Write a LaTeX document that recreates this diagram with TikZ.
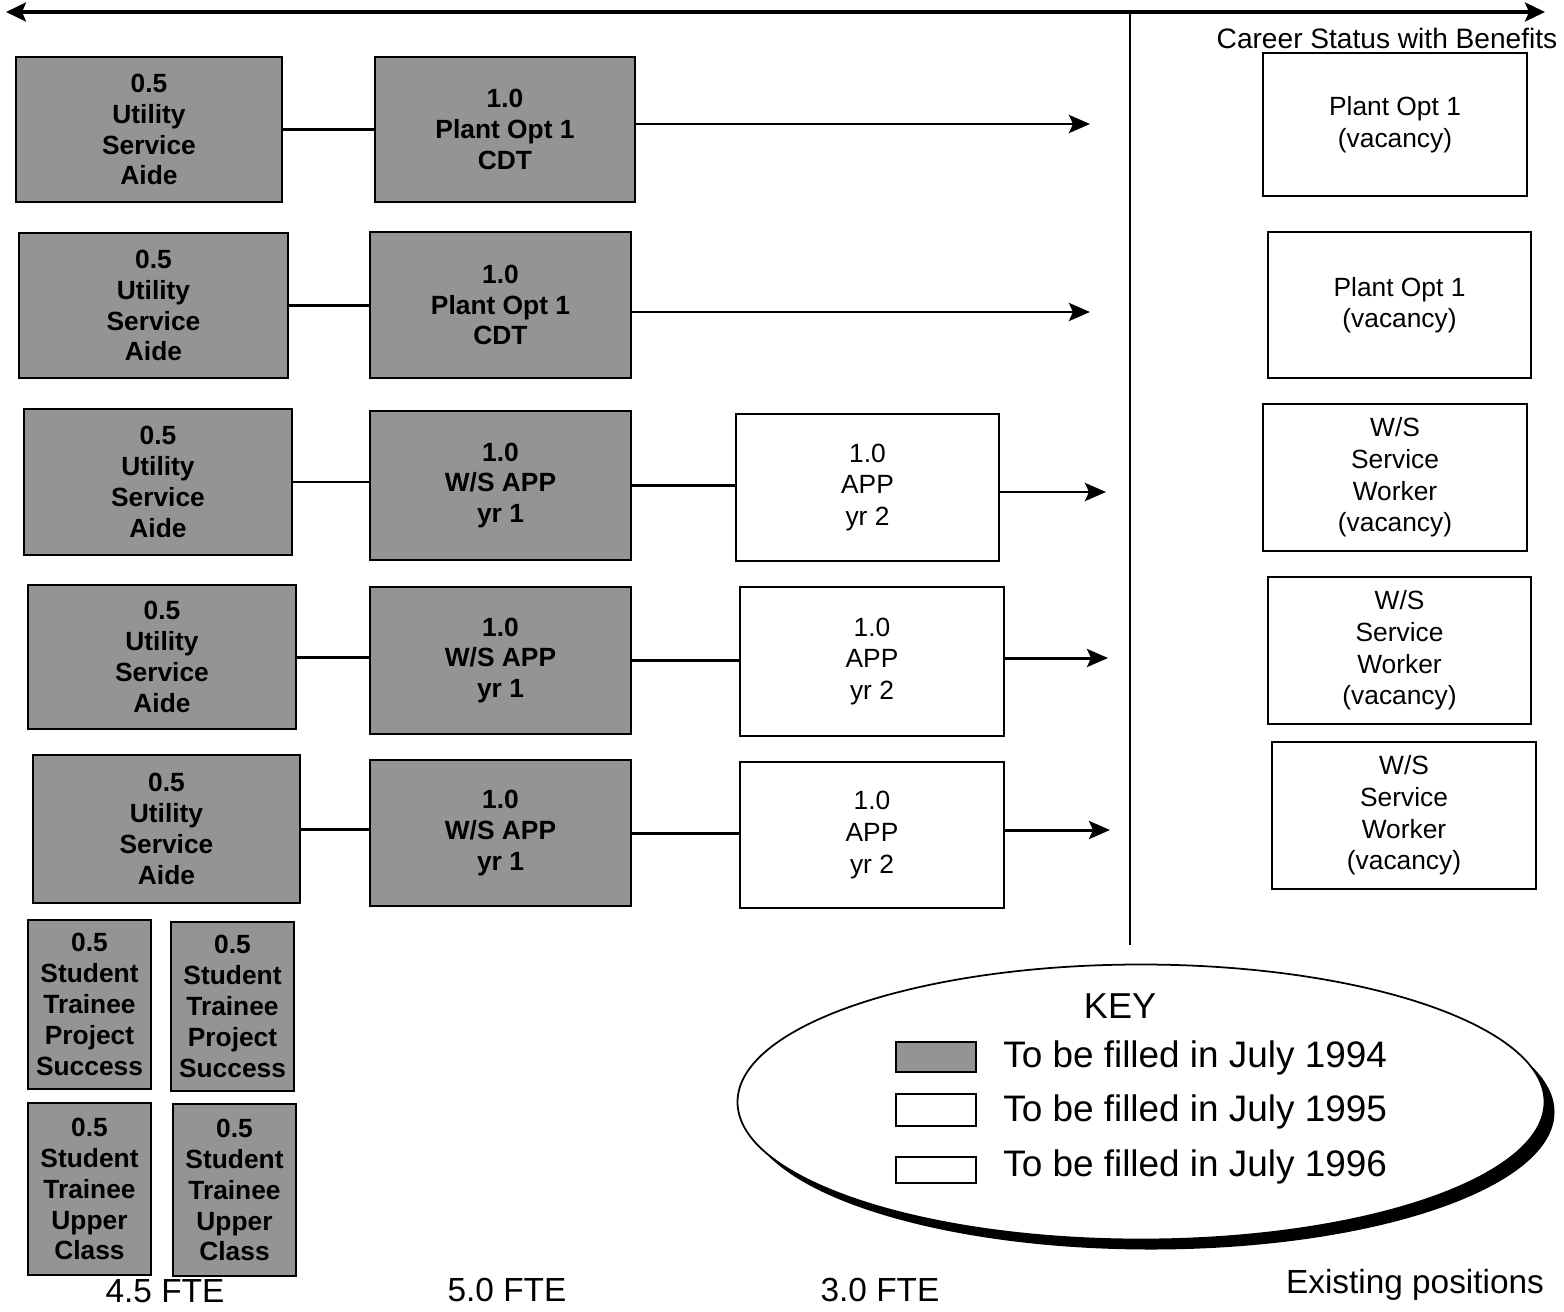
\documentclass[tikz,border=0pt]{standalone}
\usepackage{fontspec}
\setmainfont{Liberation Sans}
\usetikzlibrary{arrows.meta,positioning,shapes.geometric,shadows}

\begin{document}
\begin{tikzpicture}[
  x=0.02cm, y=-0.02cm,
  every node/.style={font=\fontsize{15}{18}\selectfont},
  sz/.style 2 args={minimum width=#1*0.02cm, minimum height=#2*0.02cm},
  greybox/.style={draw, line width=1.2pt, fill=black!42, align=center, inner sep=0pt,
                  font=\fontsize{15}{17.6}\selectfont\bfseries},
  whitebox/.style={draw, line width=1.1pt, fill=white, align=center, inner sep=0pt},
  link/.style={line width=1.7pt},
  arr/.style={line width=1.7pt, -{Stealth[length=0.42cm, width=0.36cm, inset=0.08cm]}},
  fte/.style={font=\fontsize{19}{22}\selectfont},
  keytext/.style={font=\fontsize{21}{24}\selectfont, anchor=west, inner sep=0pt}
]
  \useasboundingbox (0,0) rectangle (1564,1311);

  % time line and divider
  \coordinate (timeL) at (6,12);
  \coordinate (timeR) at (1545,12);
  \draw[line width=1.9pt, {Stealth[length=0.4cm, width=0.38cm, inset=0.08cm]}-{Stealth[length=0.4cm, width=0.38cm, inset=0.08cm]}] (timeL) -- (timeR);
  \coordinate (divtop) at (1130,12);
  \coordinate (divbot) at (1130,945);
  \draw[line width=0.8pt] (divtop) -- (divbot);
  \node[font=\fontsize{16}{19}\selectfont] (career) at (1387,38) {Career Status with Benefits};

  % row 1
  \node[greybox, sz={266}{145}] (aideA) at (149,129.5) {0.5\\Utility\\Service\\Aide};
  \node[greybox, sz={260}{145}] (cdtA) at (505,129.5) {1.0\\Plant Opt 1\\CDT};
  \node[whitebox, sz={264}{143}] (posA) at (1395,124.5) {Plant Opt 1\\(vacancy)};
  \coordinate (endA) at (1090,124);
  \draw[link] (aideA) -- (cdtA);
  \draw[arr] (cdtA.east |- endA) -- (endA);

  % row 2
  \node[greybox, sz={269}{145}] (aideB) at (153.5,305.5) {0.5\\Utility\\Service\\Aide};
  \node[greybox, sz={261}{146}] (cdtB) at (500.5,305) {1.0\\Plant Opt 1\\CDT};
  \node[whitebox, sz={263}{146}] (posB) at (1399.5,305) {Plant Opt 1\\(vacancy)};
  \coordinate (endB) at (1090,312);
  \draw[link] (aideB) -- (aideB -| cdtB.west);
  \draw[arr] (cdtB.east |- endB) -- (endB);

  % row 3
  \node[greybox, sz={268}{146}] (aideC) at (158,482) {0.5\\Utility\\Service\\Aide};
  \node[greybox, sz={261}{149}] (wsA) at (500.5,485.5) {1.0\\W/S APP\\yr 1};
  \node[whitebox, sz={263}{147}] (yrA) at (867.5,487.5) {1.0\\APP\\yr 2};
  \node[whitebox, sz={264}{147}] (posC) at (1395,477.5) {W/S\\Service\\Worker\\(vacancy)};
  \coordinate (endC) at (1106,492);
  \draw[link] (aideC) -- (aideC -| wsA.west);
  \draw[link] (wsA) -- (wsA -| yrA.west);
  \draw[arr] (yrA.east |- endC) -- (endC);

  % row 4
  \node[greybox, sz={268}{144}] (aideD) at (162,657) {0.5\\Utility\\Service\\Aide};
  \node[greybox, sz={261}{147}] (wsB) at (500.5,660.5) {1.0\\W/S APP\\yr 1};
  \node[whitebox, sz={264}{149}] (yrB) at (872,661.5) {1.0\\APP\\yr 2};
  \node[whitebox, sz={263}{147}] (posD) at (1399.5,650.5) {W/S\\Service\\Worker\\(vacancy)};
  \coordinate (endD) at (1108,658);
  \draw[link] (aideD) -- (aideD -| wsB.west);
  \draw[link] (wsB) -- (wsB -| yrB.west);
  \draw[arr] (yrB.east |- endD) -- (endD);

  % row 5
  \node[greybox, sz={267}{148}] (aideE) at (166.5,829) {0.5\\Utility\\Service\\Aide};
  \node[greybox, sz={261}{146}] (wsC) at (500.5,833) {1.0\\W/S APP\\yr 1};
  \node[whitebox, sz={264}{146}] (yrC) at (872,835) {1.0\\APP\\yr 2};
  \node[whitebox, sz={264}{147}] (posE) at (1404,815.5) {W/S\\Service\\Worker\\(vacancy)};
  \coordinate (endE) at (1110,830);
  \draw[link] (aideE) -- (aideE -| wsC.west);
  \draw[link] (wsC) -- (wsC -| yrC.west);
  \draw[arr] (yrC.east |- endE) -- (endE);

  % student trainees
  \node[greybox, sz={123}{169}] (stuA) at (89.5,1004.5) {0.5\\Student\\Trainee\\Project\\Success};
  \node[greybox, sz={123}{169}] (stuB) at (232.5,1006.5) {0.5\\Student\\Trainee\\Project\\Success};
  \node[greybox, sz={123}{172}] (stuC) at (89.5,1189) {0.5\\Student\\Trainee\\Upper\\Class};
  \node[greybox, sz={123}{172}] (stuD) at (234.5,1190) {0.5\\Student\\Trainee\\Upper\\Class};

  % column totals
  \node[fte] (fteA) at (165,1291) {4.5 FTE};
  \node[fte] (fteB) at (507,1290) {5.0 FTE};
  \node[fte] (fteC) at (880,1290) {3.0 FTE};
  \node[fte] (fteD) at (1415,1285) {Existing positions};

  % key
  \node[draw, ellipse, line width=1pt, fill=white, sz={807}{275},
        drop shadow={shadow xshift=0.2cm, shadow yshift=-0.2cm, opacity=1, fill=black}] (key) at (1141,1102) {};
  \node[font=\fontsize{20.5}{24}\selectfont] (keyhead) at (1120,1006) {KEY};
  \node[greybox, line width=1pt, sz={80}{30}] (swA) at (936,1057) {};
  \node[whitebox, line width=1pt, sz={80}{32}] (swB) at (936,1110) {};
  \node[whitebox, line width=1pt, sz={80}{26}] (swC) at (936,1170) {};
  \node[keytext] (txA) at (1003,1058) {To be filled in July 1994};
  \node[keytext] (txB) at (1003,1112) {To be filled in July 1995};
  \node[keytext] (txC) at (1003,1167) {To be filled in July 1996};
\end{tikzpicture}
\end{document}
